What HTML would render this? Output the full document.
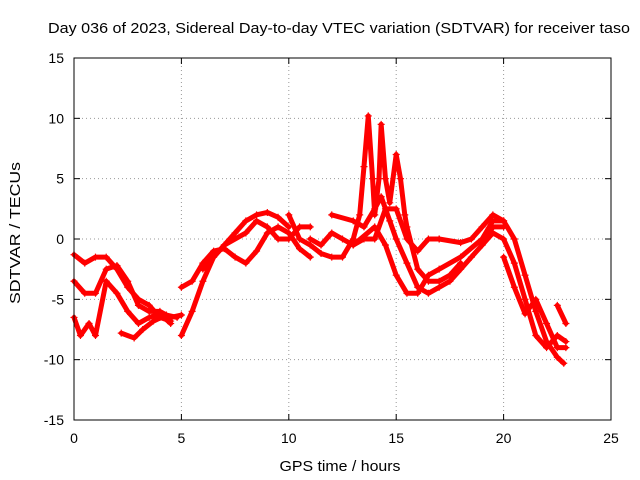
<!DOCTYPE html>
<html><head><meta charset="utf-8"><style>
body{margin:0;background:#fff;}
svg{display:block;font-family:"Liberation Sans",sans-serif;}
</style></head><body>
<svg id="c" width="640" height="480">
<rect width="640" height="480" fill="#fff"/>
<text x="339" y="33" font-size="15" text-anchor="middle" textLength="582" lengthAdjust="spacingAndGlyphs">Day 036 of 2023, Sidereal Day-to-day VTEC variation (SDTVAR) for receiver taso</text>
<text x="340" y="471" font-size="15" text-anchor="middle" textLength="121" lengthAdjust="spacingAndGlyphs">GPS time / hours</text>
<text transform="translate(20,233) rotate(-90)" font-size="15" text-anchor="middle" textLength="142" lengthAdjust="spacingAndGlyphs">SDTVAR / TECUs</text>
<g id="grid"></g><g id="series"></g>
<rect x="74" y="58" width="537" height="362" fill="none" stroke="#000" stroke-width="1"/>
</svg>
<script>
const xTicks=[0,5,10,15,20,25];
const yTicks=[-15,-10,-5,0,5,10,15];
const tracks=[
[[0,-1.3],[0.5,-2],[1,-1.5],[1.5,-1.5],[2,-2.5],[2.5,-4],[3,-5],[3.5,-5.5],[4,-6.5],[4.5,-6.8]],
[[0,-3.5],[0.5,-4.5],[1,-4.5],[1.5,-2.5],[2,-2.2],[2.5,-3.5],[3,-5.5],[3.5,-6],[4,-6],[4.5,-6.5],[5,-6.3]],
[[0,-6.5],[0.3,-8],[0.7,-7],[1,-8],[1.5,-3.5],[2,-4.5],[2.5,-6],[3,-7],[3.5,-6.5],[4,-6.2],[4.5,-7]],
[[2.2,-7.8],[2.8,-8.2],[3.2,-7.5],[3.7,-6.8],[4.3,-6.3],[4.8,-6.5]],
[[5,-8],[5.5,-6],[6,-3.5],[6.5,-1.5],[7,-0.5],[7.5,0.5],[8,1.5],[8.5,2],[9,2.2],[9.5,1.8],[10,1]],
[[5,-4],[5.5,-3.5],[6,-2],[6.5,-1],[7,-0.8],[7.5,-1.5],[8,-2],[8.5,-1],[9,0.5],[9.5,1],[10,0.5],[10.5,-0.8],[11,-1.5]],
[[6,-2.5],[7,-0.5],[8,0.5],[8.5,1.5],[9,1],[9.5,0],[10,0],[10.5,1],[11,1]],
[[10,2],[10.5,0],[11,-0.5],[11.5,-1.2],[12,-1.5],[12.5,-1.5],[13,0],[13.3,2],[13.5,6],[13.7,10.2],[13.9,5],[14,2],[14.2,5],[14.3,9.5],[14.5,5],[14.7,3],[15,7],[15.2,5],[15.4,2],[15.5,1],[16,-2.5],[16.5,-3.5],[17,-3.5],[17.5,-3],[18,-2]],
[[11,0],[11.5,-0.5],[12,0.5],[12.5,0],[13,-0.5],[13.5,0],[14,0],[14.5,2.5],[15,2.5],[15.5,0],[16,-1],[16.5,0],[17,0]],
[[12,2],[13,1.5],[13.5,1],[14,2.5],[14.3,3.5],[14.7,1.5],[15,0],[15.5,-2],[16,-4],[16.5,-4.5],[17,-4],[17.5,-3.5],[18,-2.5],[18.5,-1.5],[19,-0.5],[19.5,1],[20,1]],
[[13,-0.5],[14,1],[14.5,-0.5],[15,-3],[15.5,-4.5],[16,-4.5],[16.5,-3],[17,-2.5],[18,-1.5],[19,0],[19.5,1.5],[20,1.5]],
[[17,0],[18,-0.3],[18.5,0],[19,1],[19.5,2],[20,1.5],[20.5,0],[21,-3],[21.5,-6],[22,-8.5],[22.5,-9.8],[22.8,-10.3]],
[[19,-0.5],[19.5,0.5],[20,0],[20.5,-2],[21,-5],[21.5,-8],[22,-9],[22.5,-8],[22.9,-8.5]],
[[20,-1.5],[20.5,-4],[21,-6.2],[21.5,-5],[22,-7],[22.5,-9],[22.9,-9]],
[[22.5,-5.5],[22.9,-7]]
];
const L=74,R=611,T=58,B=420;
const X=v=>L+(v-0)/25*(R-L);
const Y=v=>B-(v+15)/30*(B-T);
const NS="http://www.w3.org/2000/svg";
const g=document.getElementById('grid'),s=document.getElementById('series');
function mk(p,tag,a){const e=document.createElementNS(NS,tag);for(const k in a)e.setAttribute(k,a[k]);p.appendChild(e);return e;}
xTicks.forEach(t=>{
 if(t>0&&t<25){const l=mk(g,'line',{x1:X(t),x2:X(t),y1:T,y2:B,stroke:'#999','stroke-dasharray':'1,3'});
 
 }
 mk(g,'line',{x1:X(t),x2:X(t),y1:B,y2:B-6,stroke:'#000'});
 mk(g,'line',{x1:X(t),x2:X(t),y1:T,y2:T+6,stroke:'#000'});
 const tx=mk(g,'text',{x:X(t),y:B+23,'font-size':14,'text-anchor':'middle'});tx.textContent=t;
 
 
});
yTicks.forEach(t=>{
 if(t>-15&&t<15){const l=mk(g,'line',{x1:L,x2:R,y1:Y(t),y2:Y(t),stroke:'#999','stroke-dasharray':'1,3'});
 
 }
 mk(g,'line',{x1:L,x2:L+6,y1:Y(t),y2:Y(t),stroke:'#000'});
 mk(g,'line',{x1:R,x2:R-6,y1:Y(t),y2:Y(t),stroke:'#000'});
 const tx=mk(g,'text',{x:L-10,y:Y(t)+5,'font-size':14,'text-anchor':'end'});tx.textContent=t;
 
 
});
tracks.forEach((tr,i)=>{
 const pl=mk(s,'polyline',{points:tr.map(p=>X(p[0])+','+Y(p[1])).join(' '),fill:'none',stroke:'#f00','stroke-width':5,'stroke-linejoin':'round','stroke-linecap':'round'});
 
 
 tr.forEach(p=>{
  const m=mk(s,'path',{d:`M${X(p[0])-3.5},${Y(p[1])}h7M${X(p[0])},${Y(p[1])-3.5}v7`,stroke:'#f00','stroke-width':1.2});
  
  
 });
});
</script>
</body></html>
